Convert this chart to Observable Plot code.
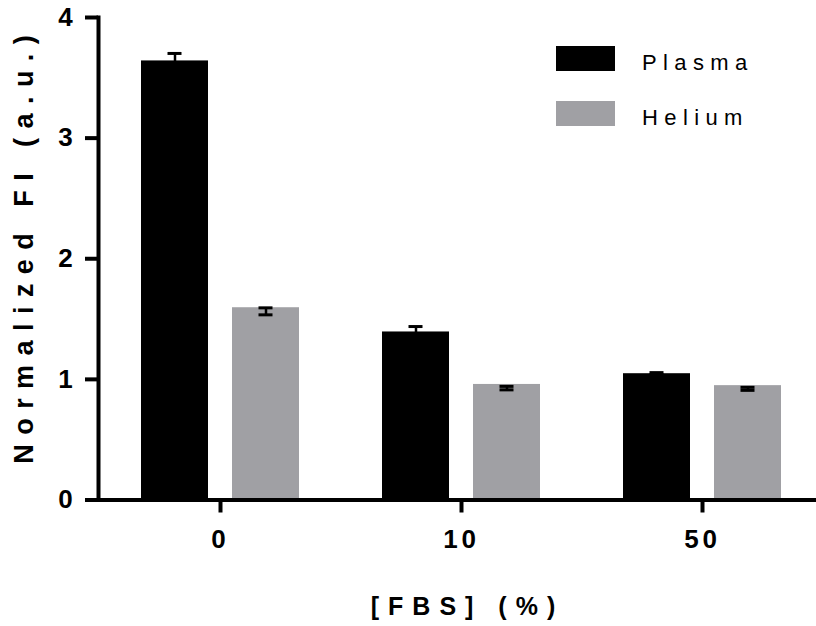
<!DOCTYPE html>
<html>
<head>
<meta charset="utf-8">
<script src="https://cdn.jsdelivr.net/npm/d3@7"></script>
<script src="https://cdn.jsdelivr.net/npm/@observablehq/plot@0.6"></script>
<style>
  html, body { margin: 0; padding: 0; background: #fff; }
  #wrap { position: relative; width: 816px; height: 626px; overflow: hidden; }
  #wrap svg text { letter-spacing: 0.15em; }
  #wrap g[aria-description="xtitle"] text { letter-spacing: 0.36em; }
  #wrap g[aria-description="ytitle"] text { letter-spacing: 0.35em; }
  .legend { position: absolute; left: 556px; top: 46px; font-family: "Liberation Sans", Arial, sans-serif; }
  .legend .row { position: absolute; left: 0; display: flex; align-items: center; height: 25px; white-space: nowrap; }
  .legend .sw { width: 59px; height: 25px; flex: none; }
  .legend .lab { margin-left: 27px; font-size: 22px; letter-spacing: 0.29em; color: #000; position: relative; top: 4px; }
</style>
</head>
<body>
<div id="wrap"></div>
<script>
// ---- data ----
const fbs = ["0", "10", "50"];                 // [FBS] (%) categories
const series = ["Plasma", "Helium"];
const colors = ["#000000", "#a0a0a4"];
const plasmaMean = [3.64, 1.393, 1.047];
const plasmaLow  = [3.578, 1.348, 1.038];
const plasmaHigh = [3.702, 1.438, 1.056];
const heliumMean = [1.594, 0.958, 0.948];
const heliumLow  = [1.535, 0.913, 0.909];
const heliumHigh = [1.593, 0.942, 0.934];
const yTicks = [0, 1, 2, 3, 4];
const xTitle = "[FBS] (%)";
const yTitle = "Normalized FI (a.u.)";

const plasma = fbs.map((f, i) => ({fbs: f, series: series[0], mean: plasmaMean[i], lo: plasmaLow[i], hi: plasmaHigh[i]}));
const helium = fbs.map((f, i) => ({fbs: f, series: series[1], mean: heliumMean[i], lo: heliumLow[i], hi: heliumHigh[i]}));

// layout within each FBS group: two bars of barW separated by gap
const barW = 68, gap = 23, capW = 15;
const groupW = 2 * barW + gap;              // 159
const off = (gap + barW) / 2;               // bar centre offset from group centre
const capIn = barW / 2 - capW / 2;          // cap inset from the bar's outer edge

const chart = Plot.plot({
  width: 816,
  height: 626,
  marginLeft: 98,
  marginRight: 0,
  marginTop: 17,
  marginBottom: 126.5,
  style: {fontFamily: "'Liberation Sans', Arial, sans-serif", fontSize: "26px", fontWeight: "bold", background: "#fff", color: "#000"},
  x: {domain: fbs, paddingInner: 0.343, paddingOuter: 0.155, align: 0.56, label: null},
  y: {domain: [0, 4], label: null},
  marks: [
    Plot.barY(plasma, {x: "fbs", y: "mean", fill: colors[0], insetRight: groupW - barW}),
    Plot.barY(helium, {x: "fbs", y: "mean", fill: colors[1], insetLeft: groupW - barW}),
    // error bars
    Plot.ruleX(plasma, {x: "fbs", y1: "lo", y2: "hi", dx: -off, stroke: "#000", strokeWidth: 2.5}),
    Plot.tickY(plasma, {x: "fbs", y: "hi", insetLeft: capIn, insetRight: groupW - barW + capIn, stroke: "#000", strokeWidth: 3}),
    Plot.tickY(plasma, {x: "fbs", y: "lo", insetLeft: capIn, insetRight: groupW - barW + capIn, stroke: "#000", strokeWidth: 3}),
    Plot.ruleX(helium, {x: "fbs", y1: "lo", y2: "hi", dx: off, stroke: "#000", strokeWidth: 2.5}),
    Plot.tickY(helium, {x: "fbs", y: "hi", insetRight: capIn, insetLeft: groupW - barW + capIn, stroke: "#000", strokeWidth: 3}),
    Plot.tickY(helium, {x: "fbs", y: "lo", insetRight: capIn, insetLeft: groupW - barW + capIn, stroke: "#000", strokeWidth: 3}),
    // axes
    Plot.frame({anchor: "left", stroke: "#000", strokeWidth: 4}),
    Plot.ruleY([0], {stroke: "#000", strokeWidth: 4}),
    Plot.axisY({ticks: yTicks, tickFormat: d3.format("d"), tickSize: 13, tickPadding: 9, strokeWidth: 4, label: null}),
    Plot.axisX({tickSize: 13, tickPadding: 17, strokeWidth: 4, label: null}),
    // titles
    Plot.text([xTitle], {frameAnchor: "bottom", textAnchor: "middle", lineAnchor: "top", dy: 97, dx: 10, fontSize: 25, fontWeight: "bold", ariaDescription: "xtitle"}),
    Plot.text([yTitle], {frameAnchor: "left", textAnchor: "middle", lineAnchor: "top", rotate: -90, dx: -85, dy: -14, fontSize: 27, fontWeight: "bold", ariaDescription: "ytitle"})
  ]
});

const wrap = document.getElementById("wrap");
wrap.appendChild(chart);

// legend (inside plot area, top right)
const legend = document.createElement("div");
legend.className = "legend";
series.forEach((s, i) => {
  const row = document.createElement("div");
  row.className = "row";
  row.style.top = (i * 55) + "px";
  const sw = document.createElement("div");
  sw.className = "sw";
  sw.style.background = colors[i];
  const lab = document.createElement("span");
  lab.className = "lab";
  lab.textContent = s;
  row.appendChild(sw);
  row.appendChild(lab);
  legend.appendChild(row);
});
wrap.appendChild(legend);
</script>
</body>
</html>
